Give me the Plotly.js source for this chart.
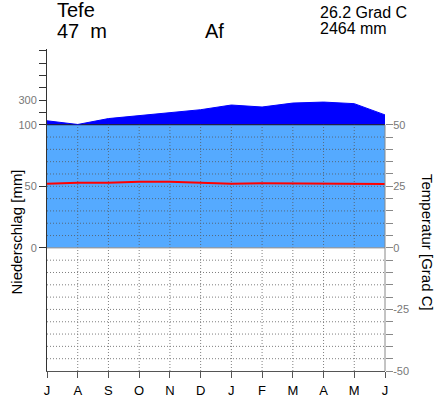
<!DOCTYPE html>
<html><head><meta charset="utf-8">
<script src="https://cdn.plot.ly/plotly-3.0.1.min.js"></script>
<style>html,body{margin:0;padding:0;background:#fff;overflow:hidden}</style>
</head><body><div id="chart" style="width:436px;height:399px"></div>
<script>
// ---- data ----
const months = ['J','A','S','O','N','D','J','F','M','A','M','J'];
const precipitation = [132,102,150,174,196,222,260,244,276,284,271,180]; // mm
const temperature = [26.0,26.4,26.4,26.8,26.8,26.4,26.0,26.2,26.2,26.2,26.2,25.9]; // Grad C
const stationName = 'Tefe';
const elevation = '47\u00a0\u00a0m';
const climateClass = 'Af';
const meanTempText = '26.2 Grad C';
const annualPrecipText = '2464 mm';
const precipTickVals = [0,50,100,200,300,400,500,600,700];
const precipTickText = ['0','50','100','','300','','','',''];
const tempTickVals = [-50,-45,-40,-35,-30,-25,-20,-15,-10,-5,0,5,10,15,20,25,30,35,40,45,50];
const tempTickText = tempTickVals.map(v => (v % 25 === 0) ? String(v) : '');

// ---- scale: above 100 mm compressed by factor 10; 1 Grad C = 2 mm ----
const disp = mm => mm <= 100 ? mm : 100 + (mm - 100) / 10;
const xIdx = months.map((m, i) => i);

const W = 436, H = 399, L = 47, R = 51, T = 49, B = 28;
const pw = W - L - R, ph = H - T - B;
const px2x = px => (px - L) / pw;
const py2y = py => (H - B - py) / ph;
const FONT = 'Liberation Sans, Arial, Helvetica, sans-serif';

// grid built from tick arrays
const gx = [], gy = [];
tempTickVals.forEach(t => {
  if (t !== 0 && Math.abs(t) !== 50) { gx.push(0, months.length - 1, null); gy.push(2 * t, 2 * t, null); }
});
xIdx.forEach(i => {
  if (i !== 0 && i !== months.length - 1) { gx.push(i, i, null); gy.push(-100, 100, null); }
});

const traces = [
  { x: xIdx, y: precipitation.map(p => Math.min(p, 100)), type: 'scatter', mode: 'lines',
    fill: 'tozeroy', fillcolor: '#55aaff', line: { color: '#1a1a1a', width: 1 }, hoverinfo: 'skip' },
  { x: xIdx, y: precipitation.map(disp), type: 'scatter', mode: 'lines',
    fill: 'tonexty', fillcolor: '#0000ff', line: { color: '#0000ff', width: 1 }, hoverinfo: 'skip' },
  { x: gx, y: gy, type: 'scatter', mode: 'lines', connectgaps: false,
    line: { color: '#555', width: 1, dash: '1px,2px' }, opacity: 0.75, hoverinfo: 'skip' },
  { x: [0, months.length - 1], y: [0, 0], type: 'scatter', mode: 'lines',
    line: { color: '#888', width: 1 }, hoverinfo: 'skip' },
  { x: xIdx, y: temperature, yaxis: 'y2', type: 'scatter', mode: 'lines',
    line: { color: '#ff0000', width: 2 }, hoverinfo: 'skip' }
];

const ann = (text, px, py, size, xa, extra) => Object.assign({
  text: text, xref: 'paper', yref: 'paper', x: px2x(px), y: py2y(py),
  xanchor: xa, yanchor: 'middle', showarrow: false,
  font: { family: FONT, size: size, color: '#000' }
}, extra || {});

const layout = {
  width: W, height: H,
  margin: { l: L, r: R, t: T, b: B, pad: 0 },
  paper_bgcolor: '#fff', plot_bgcolor: '#fff',
  showlegend: false,
  font: { family: FONT },
  xaxis: {
    range: [0, months.length - 1], tickvals: xIdx, ticktext: months,
    ticks: 'outside', ticklen: 6, tickcolor: '#555', showline: true, linecolor: '#555',
    showgrid: false, zeroline: false, fixedrange: true, ticklabelstandoff: 1,
    tickfont: { family: FONT, size: 13, color: '#000' }
  },
  yaxis: {
    range: [-100, 161.5], tickvals: precipTickVals.map(disp), ticktext: precipTickText,
    ticks: 'outside', ticklen: 7, tickcolor: '#333', showline: true, linecolor: '#333',
    showgrid: false, zeroline: false, fixedrange: true,
    tickfont: { family: FONT, size: 11, color: '#777' }
  },
  yaxis2: {
    overlaying: 'y', side: 'right', range: [-50, 80.75],
    tickvals: tempTickVals, ticktext: tempTickText,
    ticks: 'outside', ticklen: 7, tickcolor: '#888', showline: false,
    showgrid: false, zeroline: false, fixedrange: true, ticklabelstandoff: -2,
    tickfont: { family: FONT, size: 11, color: '#777' }
  },
  shapes: [
    { type: 'line', xref: 'paper', yref: 'y2', x0: 1, x1: 1, y0: -50, y1: 50,
      line: { color: '#888', width: 1 }, layer: 'above' }
  ],
  annotations: [
    ann(stationName, 55, 10.5, 20, 'left'),
    ann(elevation, 55, 31, 20, 'left'),
    ann(climateClass, 203, 31, 20, 'left'),
    ann(meanTempText, 318, 12, 16, 'left'),
    ann(annualPrecipText, 318, 28.5, 16, 'left'),
    ann('Niederschlag [mm]', 15.5, 232, 15, 'center', { textangle: -90 }),
    ann('Temperatur [Grad C]', 428, 242, 15, 'center', { textangle: 90 })
  ]
};

Plotly.newPlot('chart', traces, layout, { staticPlot: true, displayModeBar: false });
</script></body></html>
